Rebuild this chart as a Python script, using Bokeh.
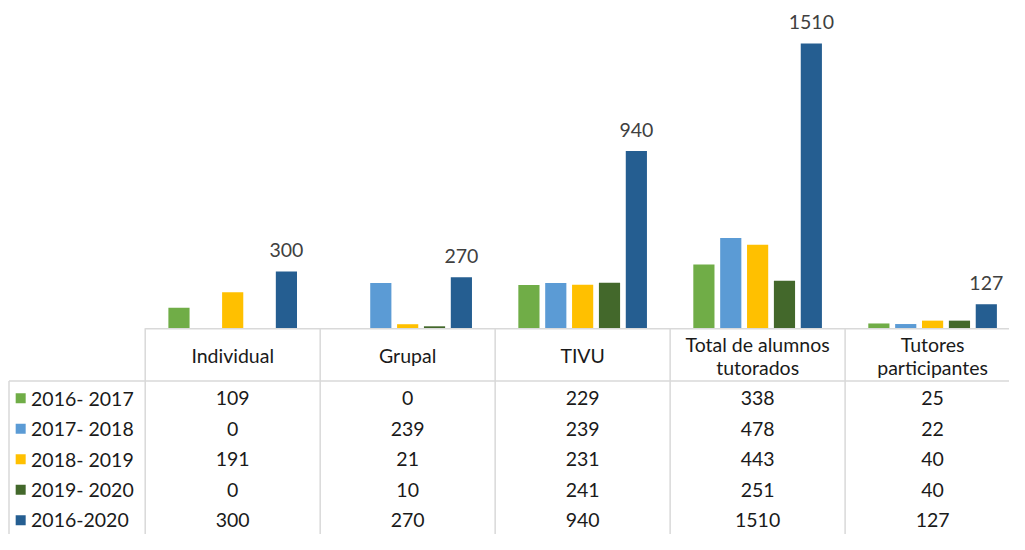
from bokeh.plotting import figure
from bokeh.models import Range1d, ColumnDataSource
from bokeh.core.properties import value
from bokeh.embed import file_html
from bokeh.resources import INLINE

# ---------------- data ----------------
categories = ["Individual", "Grupal", "TIVU", "Total de alumnos\ntutorados", "Tutores\nparticipantes"]
series_names = ["2016- 2017", "2017- 2018", "2018- 2019", "2019- 2020", "2016-2020"]
v_2016_2017 = [109, 0, 229, 338, 25]
v_2017_2018 = [0, 239, 239, 478, 22]
v_2018_2019 = [191, 21, 231, 443, 40]
v_2019_2020 = [0, 10, 241, 251, 40]
v_2016_2020 = [300, 270, 940, 1510, 127]
series_values = [v_2016_2017, v_2017_2018, v_2018_2019, v_2019_2020, v_2016_2020]
colors = ["#70AD47", "#5B9BD5", "#FFC000", "#43682B", "#255E91"]
labelled_series = 4  # only the 2016-2020 series carries data labels

# ---------------- layout (reference pixels scaled to the figure) ----------------
W, H = 1009, 534
SX, SY = W / 1025, H / 550
COL0, COLW = 147 * SX, 177.75 * SX
BASE, PXU = 337.5 * SY, 0.1942 * SY
LEFT_LINE = 8.5
HEADER_BOTTOM = 392 * SY
HEAD_SINGLE = 365.5 * SY
HEAD_DOUBLE = [354 * SY, 378 * SY]
ROW0, ROWH = 409.7 * SY, 30.5
BAR_STEP, BAR_W = 0.1535, 0.121
FONT = value("Lato")
FS = "19.5px"
GRID = "#d9d9d9"
TXT = "#1a1a1a"

p = figure(width=W, height=H,
           x_range=Range1d(0, W), y_range=Range1d(H, 0),
           output_backend="svg", toolbar_location=None,
           x_axis_location=None, y_axis_location=None,
           min_border=0, outline_line_color=None)
p.grid.visible = False
p.background_fill_color = "white"
p.extra_x_ranges = {"cols": Range1d(-COL0 / COLW, (W - COL0) / COLW)}
p.extra_y_ranges = {"vals": Range1d(-(H - BASE) / PXU, BASE / PXU)}

n = len(categories)

# bars
for s, (vals, col) in enumerate(zip(series_values, colors)):
    xs = [i + 0.5 + (s - 2) * BAR_STEP for i in range(n)]
    src = ColumnDataSource(dict(x=xs, top=vals))
    p.vbar(x="x", top="top", bottom=0, width=BAR_W, source=src,
           fill_color=col, line_color=None,
           x_range_name="cols", y_range_name="vals")
    if s == labelled_series:
        p.text(x=xs, y=vals, text=[str(v) for v in vals],
               x_range_name="cols", y_range_name="vals",
               text_align="center", text_baseline="middle", y_offset=-22 * SY,
               text_font=FONT, text_font_size=FS, text_color="#404040")

# table lines
p.segment(x0=list(range(n + 1)), x1=list(range(n + 1)),
          y0=[BASE] * (n + 1), y1=[H] * (n + 1),
          x_range_name="cols", line_color=GRID, line_width=1.5)
p.segment(x0=[COL0, LEFT_LINE], x1=[W, W],
          y0=[BASE + 0.5, HEADER_BOTTOM], y1=[BASE + 0.5, HEADER_BOTTOM],
          line_color=GRID, line_width=1.5)
p.segment(x0=[LEFT_LINE], x1=[LEFT_LINE], y0=[HEADER_BOTTOM], y1=[H],
          line_color=GRID, line_width=1.5)

# header text
hx, hy, ht = [], [], []
for i, cat in enumerate(categories):
    lines = cat.split("\n")
    ys = [HEAD_SINGLE] if len(lines) == 1 else HEAD_DOUBLE
    for ln, yy in zip(lines, ys):
        hx.append(i + 0.5)
        hy.append(yy)
        ht.append(ln)
p.text(x=hx, y=hy, text=ht, x_range_name="cols",
       text_align="center", text_baseline="middle",
       text_font=FONT, text_font_size=FS, text_color=TXT)

# table rows
for r, (name, vals, col) in enumerate(zip(series_names, series_values, colors)):
    ym = ROW0 + r * ROWH
    p.text(x=[i + 0.5 for i in range(n)], y=[ym] * n, text=[str(v) for v in vals],
           x_range_name="cols", text_align="center", text_baseline="middle",
           text_font=FONT, text_font_size=FS, text_color=TXT)
    p.rect(x=[20.5 * SX], y=[ym], width=10, height=10,
           fill_color=col, line_color=None)
    p.text(x=[31 * SX], y=[ym], text=[name], text_align="left", text_baseline="middle",
           text_font=FONT, text_font_size=FS, text_color=TXT)

open("out.html", "w").write(file_html(p, INLINE))
